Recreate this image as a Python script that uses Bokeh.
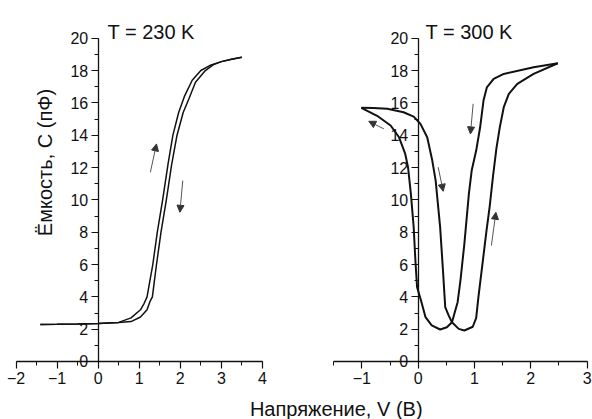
from bokeh.plotting import figure
from bokeh.models import Label, Arrow, NormalHead, SingleIntervalTicker
from bokeh.layouts import row, column
from bokeh.embed import file_html
from bokeh.resources import INLINE

# ---------------- data ----------------
# T = 230 K
v230_a = [-1.41, -1.0, -0.5, 0.0, 0.5, 0.8, 1.03, 1.12, 1.19, 1.26, 1.33, 1.44, 1.57, 1.70, 1.82,
          1.96, 2.10, 2.29, 2.50, 2.75, 3.00, 3.25, 3.50]
c230_a = [2.29, 2.30, 2.32, 2.35, 2.42, 2.70, 3.20, 3.60, 4.00, 5.00, 6.00, 8.00, 10.0, 12.2, 14.0,
          15.4, 16.4, 17.4, 18.0, 18.35, 18.55, 18.70, 18.82]
v230_b = [-1.41, -1.0, -0.5, 0.0, 0.5, 0.8, 1.03, 1.19, 1.26, 1.32, 1.37, 1.42, 1.53, 1.66, 1.79,
          1.92, 2.07, 2.21, 2.37, 2.61, 2.80, 3.00, 3.25, 3.50]
c230_b = [2.29, 2.30, 2.32, 2.35, 2.42, 2.47, 2.75, 3.20, 3.70, 4.00, 5.00, 6.00, 8.00, 10.0, 12.2,
          14.0, 15.4, 16.25, 17.27, 18.0, 18.35, 18.55, 18.70, 18.82]

# T = 300 K
v300_fwd = [-1.01, -0.80, -0.55, -0.26, -0.08, 0.04, 0.16, 0.25, 0.31, 0.39, 0.44, 0.48, 0.54,
            0.60, 0.72, 0.82, 0.97, 1.03, 1.07, 1.14, 1.21, 1.27, 1.33, 1.39, 1.45, 1.52, 1.61,
            1.76, 2.05, 2.48]
c300_fwd = [15.69, 15.68, 15.63, 15.42, 15.15, 14.70, 13.87, 12.43, 11.19, 8.30, 5.63, 3.36, 2.85,
            2.43, 2.02, 1.92, 2.15, 2.70, 4.00, 6.00, 8.00, 9.60, 11.5, 13.2, 14.5, 15.73, 16.55,
            17.17, 17.79, 18.45]
v300_rev = [2.48, 2.05, 1.52, 1.34, 1.22, 1.16, 1.10, 1.03, 0.95, 0.90, 0.82, 0.75, 0.70, 0.60,
            0.51, 0.39, 0.24, 0.13, 0.05, -0.02, -0.05, -0.08, -0.13, -0.18, -0.23, -0.34, -0.49,
            -0.73, -1.01]
c300_rev = [18.45, 18.20, 17.79, 17.48, 16.96, 16.14, 14.49, 13.05, 11.81, 10.37, 7.28, 5.00, 3.67,
            2.43, 2.12, 1.98, 2.23, 2.74, 3.77, 4.60, 6.25, 8.30, 10.37, 12.0, 12.84, 13.87, 14.60,
            15.20, 15.69]

# sweep-direction arrows: (x_start, y_start, x_end, y_end)
arrows230 = [(1.27, 11.7, 1.42, 13.46), (2.06, 11.19, 1.99, 9.23)]
arrows300 = [(-0.61, 14.39, -0.878, 14.86), (0.355, 12.02, 0.444, 10.53),
             (0.976, 15.94, 0.928, 14.08), (1.30, 7.17, 1.38, 9.23)]

title230 = "T = 230 K"
title300 = "T = 300 K"
ylabel = "Ёмкость, С (пФ)"
xlabel = "Напряжение, V  (В)"

FONT = "Liberation Sans"
INK = "#111111"

# pixel scales of the reference
PX_Y = 16.165   # px per pF
H = 388
Y1 = 22.332
Y0 = Y1 - H / PX_Y


def make_panel(width, x0, x1, x_bounds, title, title_x):
    p = figure(width=width, height=H, x_range=(x0, x1), y_range=(Y0, Y1),
               toolbar_location=None, output_backend="svg", min_border=0)
    p.grid.visible = False
    p.outline_line_color = None
    p.background_fill_color = "white"
    p.xaxis.fixed_location = 0
    p.yaxis.fixed_location = 0
    p.xaxis.bounds = x_bounds
    p.yaxis.bounds = (0, 20)
    p.xaxis.ticker = SingleIntervalTicker(interval=1, num_minor_ticks=2)
    p.yaxis.ticker = SingleIntervalTicker(interval=2, num_minor_ticks=2)
    for ax in (p.xaxis, p.yaxis):
        ax.axis_line_width = 1.3
        ax.axis_line_color = INK
        ax.major_tick_line_color = INK
        ax.minor_tick_line_color = INK
        ax.major_tick_line_width = 1.2
        ax.minor_tick_line_width = 1.0
        ax.major_tick_in = 0
        ax.major_tick_out = 7
        ax.minor_tick_in = 0
        ax.minor_tick_out = 4
        ax.major_label_text_font = FONT
        ax.major_label_text_font_size = "16px"
        ax.major_label_text_color = INK
    p.xaxis.major_label_standoff = 4
    p.yaxis.major_label_standoff = 3
    p.add_layout(Label(x=title_x, y=20.37, text=title, text_font=FONT,
                       text_font_size="20px", text_color=INK,
                       text_align="left", text_baseline="alphabetic"))
    return p


# left panel: 41.05 px/V, x=0 at 97.7 px; right panel: 56.3 px/V, x=0 at 417.7 px
p1 = make_panel(300, -97.7 / 41.05, -97.7 / 41.05 + 300 / 41.05, (-2, 4), title230, 0.227)
p2 = make_panel(292, -117.7 / 56.3, -117.7 / 56.3 + 292 / 56.3, (-1.5, 3), title300, 0.13)

p1.line(v230_a, c230_a, line_color=INK, line_width=1.5)
p1.line(v230_b, c230_b, line_color=INK, line_width=1.5)
p2.line(v300_fwd, c300_fwd, line_color=INK, line_width=2)
p2.line(v300_rev, c300_rev, line_color=INK, line_width=2)

for p, arrs in ((p1, arrows230), (p2, arrows300)):
    for xs, ys, xe, ye in arrs:
        p.add_layout(Arrow(end=NormalHead(size=7, fill_color="#333333", line_color="#333333"),
                           x_start=xs, y_start=ys, x_end=xe, y_end=ye,
                           line_color="#555555", line_width=1))

p1.add_layout(Label(x=-1.284, y=12.31, text=ylabel, angle=90, angle_units="deg",
                    text_font=FONT, text_font_size="20px", text_color=INK,
                    text_align="center", text_baseline="middle"))

p3 = figure(width=592, height=31, x_range=(0, 592), y_range=(0, 31),
            toolbar_location=None, output_backend="svg", min_border=0,
            x_axis_type=None, y_axis_type=None)
p3.grid.visible = False
p3.outline_line_color = None
p3.add_layout(Label(x=338.5, y=11, text=xlabel, text_font=FONT, text_font_size="20px",
                    text_color=INK, text_align="center", text_baseline="alphabetic"))

layout = column(row(p1, p2), p3)
open("out.html", "w").write(file_html(layout, INLINE))
